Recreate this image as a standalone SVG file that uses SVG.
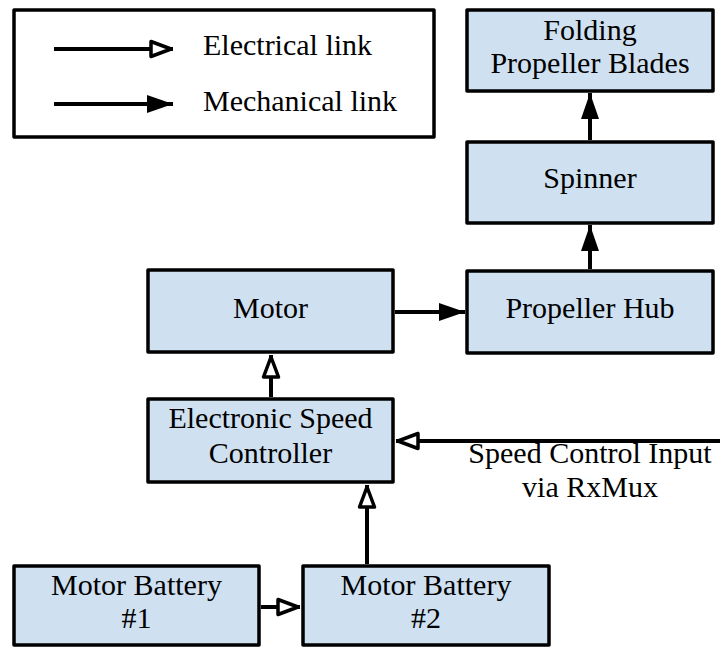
<svg xmlns="http://www.w3.org/2000/svg" width="720" height="649" viewBox="0 0 720 649">
<style>
.box{fill:#cfe0f1;stroke:#000;stroke-width:3.5;stroke-linejoin:round}
.leg{fill:#fff;stroke:#000;stroke-width:3.5;stroke-linejoin:round}
.t{font-family:"Liberation Serif","Times New Roman",serif;font-size:30px;fill:#000;text-anchor:middle}
.tl{font-family:"Liberation Serif","Times New Roman",serif;font-size:30px;fill:#000}
.mech{stroke:#000;stroke-width:4;fill:none;marker-end:url(#mfill)}
.elec{stroke:#000;stroke-width:4;fill:none;marker-end:url(#mhollow)}
</style>
<defs>
<marker id="mfill" markerUnits="userSpaceOnUse" viewBox="0 0 26 18" markerWidth="26" markerHeight="18" refX="26" refY="9" orient="auto" overflow="visible">
<path d="M0,0 L26,9 L0,18 Z" fill="#000"/>
</marker>
<marker id="mhollow" markerUnits="userSpaceOnUse" viewBox="0 0 26 20" markerWidth="26" markerHeight="20" refX="24" refY="10" orient="auto" overflow="visible">
<path d="M2,2.5 L22,10 L2,17.5 Z" fill="#fff" stroke="#000" stroke-width="3.5" stroke-linejoin="round"/>
</marker>
</defs>

<g id="legend">
<rect class="leg" x="14" y="10" width="420" height="127"/>
<path class="elec" d="M54,49 L173,49"/>
<path class="mech" d="M54,104 L173,104"/>
<text class="tl" x="203" y="55">Electrical link</text>
<text class="tl" x="203" y="111">Mechanical link</text>
</g>

<g id="connectors">
<path class="mech" d="M590,140 L590,93"/>
<path class="mech" d="M590,269 L590,225"/>
<path class="mech" d="M395,312 L465,312"/>
<path class="elec" d="M271,397 L271,355"/>
<path class="elec" d="M367,564 L367,485"/>
<path class="elec" d="M261,607 L300,607"/>
<path class="elec" d="M722,441 L396,441"/>
</g>

<g id="folding">
<rect class="box" x="467" y="10" width="246" height="81"/>
<text class="t" x="590" y="40">Folding</text>
<text class="t" x="590" y="73">Propeller Blades</text>
</g>
<g id="spinner">
<rect class="box" x="467" y="142" width="246" height="81"/>
<text class="t" x="590" y="188">Spinner</text>
</g>
<g id="hub">
<rect class="box" x="467" y="271" width="246" height="82"/>
<text class="t" x="590" y="318">Propeller Hub</text>
</g>
<g id="motor">
<rect class="box" x="148" y="270" width="245" height="82"/>
<text class="t" x="270.5" y="318">Motor</text>
</g>
<g id="esc">
<rect class="box" x="148" y="399" width="245" height="83"/>
<text class="t" x="270.5" y="428">Electronic Speed</text>
<text class="t" x="270.5" y="463">Controller</text>
</g>
<g id="input-label">
<text class="t" x="590" y="463">Speed Control Input</text>
<text class="t" x="590" y="497">via RxMux</text>
</g>
<g id="battery1">
<rect class="box" x="14" y="566" width="245" height="79"/>
<text class="t" x="136.5" y="595">Motor Battery</text>
<text class="t" x="136.5" y="628">#1</text>
</g>
<g id="battery2">
<rect class="box" x="303" y="566" width="246" height="79"/>
<text class="t" x="426" y="595">Motor Battery</text>
<text class="t" x="426" y="628">#2</text>
</g>
</svg>
